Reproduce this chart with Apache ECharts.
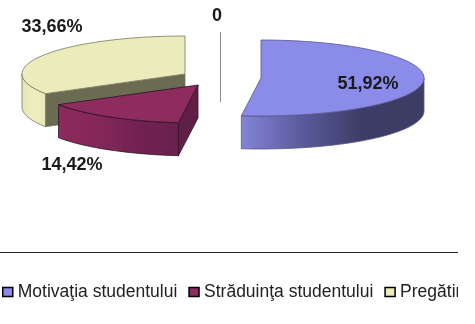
<!DOCTYPE html>
<html>
<head>
<meta charset="utf-8">
<script src="https://cdn.jsdelivr.net/npm/echarts@6/dist/echarts.min.js"></script>
<style>
html,body{margin:0;padding:0;background:#fff;}
#clip{width:458px;height:324px;overflow:hidden;filter:blur(0.35px);}
#chart{width:458px;height:324px;}
</style>
</head>
<body>
<div id="clip"><div id="chart"></div></div>
<script>
const categories = ['Motivaţia studentului', 'Străduinţa studentului', 'Pregătirea studentului'];
const values = [51.92, 14.42, 33.66];
const zeroValue = 0;

// projection of the tilted pie
const RX = 163, RY = 38, DEPTH = 33;
const centers = [[261, 78], [198, 85], [185, 74]];
const labelPos = [[368, 84], [72, 165], [52, 27]];
const palette = [
  { top: '#8b8bea', line: '#55558a', face: '#4a4a80', wall: ['#8484d8', '#5a5a9c', '#3c3c66', '#3c3c64'] },
  { top: '#8e2c5e', line: '#2e1024', face: '#5f1f46', wall: ['#8c2b5c', '#842859', '#702253', '#6a214c'] },
  { top: '#ecebbb', line: '#77775f', face: '#6b6b52', wall: ['#e4e3b4', '#eeedbe', '#eeedbe', '#e6e5b6'] }
];
// wall gradients run along the rim, from the slice's front-left end to its right end
const wallDir = [[0, 0, 1, 0], [0, 0, 1, 0], [0, 0, 1, 0]];

const total = values.reduce((a, b) => a + b, 0);
const fmt = v => v.toFixed(2).replace('.', ',') + '%';
const LABEL_FONT = 'bold 18px "Liberation Sans", Arial, sans-serif';

function pt(c, deg, dy) {
  const t = deg * Math.PI / 180;
  return [c[0] + RX * Math.sin(t), c[1] - RY * Math.cos(t) + (dy || 0)];
}
function arc(c, a, b, dy) {
  const pts = [], n = Math.max(2, Math.ceil(Math.abs(b - a) / 2));
  for (let i = 0; i <= n; i++) pts.push(pt(c, a + (b - a) * i / n, dy));
  return pts;
}

function sliceRender(idx) {
  return function (params, api) {
    const v = api.value(0);
    let before = 0;
    for (let i = 0; i < idx; i++) before += values[i];
    const a0 = before / total * 360, a1 = (before + v) / total * 360;
    const c = centers[idx], p = palette[idx], kids = [];
    const s = Math.sin(a0 * Math.PI / 180), stroke = { stroke: p.line, lineWidth: 0.8 };
    // visible cut face
    if (s < -1e-6) {
      const e = pt(c, a0);
      kids.push({ type: 'polygon', shape: { points: [c, e, [e[0], e[1] + DEPTH], [c[0], c[1] + DEPTH]] },
        style: Object.assign({ fill: p.face }, stroke) });
    }
    // outer wall: only the front half of the rim shows
    const w0 = Math.max(a0, 90), w1 = Math.min(a1, 270);
    if (w1 > w0) {
      const upper = arc(c, w0, w1, 0), lower = arc(c, w1, w0, DEPTH);
      const d = wallDir[idx];
      kids.push({ type: 'polygon', shape: { points: upper.concat(lower) },
        style: Object.assign({
          fill: new echarts.graphic.LinearGradient(d[0], d[1], d[2], d[3],
            p.wall.map((col, i) => ({ offset: i / (p.wall.length - 1), color: col })))
        }, stroke) });
    }
    // top
    kids.push({ type: 'polygon', shape: { points: [c].concat(arc(c, a0, a1, 0)) },
      style: Object.assign({ fill: p.top }, stroke) });
    // value label
    kids.push({ type: 'text', style: { x: labelPos[idx][0], y: labelPos[idx][1], text: fmt(v), align: 'center', verticalAlign: 'middle',
      font: LABEL_FONT, fill: '#1a1a1a' } });
    return { type: 'group', children: kids };
  };
}

const series = categories.map((name, i) => ({
  type: 'custom', name, coordinateSystem: 'none', silent: true,
  itemStyle: { color: palette[i].top },
  data: [[values[i]]],
  renderItem: sliceRender(i),
  animation: false
}));
// draw back to front
const drawOrder = [2, 1, 0];
drawOrder.forEach((i, k) => { series[i].z = 2 + k; });
// zero-valued point: label and leader line only
series.push({
  type: 'custom', name: 'zero', coordinateSystem: 'none', silent: true, z: 6, animation: false,
  data: [[zeroValue]],
  renderItem: (params, api) => ({ type: 'group', children: [
    { type: 'line', shape: { x1: 220.5, y1: 32, x2: 220.5, y2: 102 }, style: { stroke: '#8a8a8a', lineWidth: 1 } },
    { type: 'text', style: { x: 217, y: 16, text: String(api.value(0)), align: 'center', verticalAlign: 'middle',
      font: LABEL_FONT, fill: '#1a1a1a' } }
  ] })
});

const chart = echarts.init(document.getElementById('chart'), null, { renderer: 'canvas' });
chart.setOption({
  animation: false,
  backgroundColor: '#fff',
  legend: {
    data: categories, left: 2, top: 283, width: 800, itemWidth: 10, itemHeight: 9, itemGap: 11,
    padding: 0, selectedMode: false, icon: 'rect',
    itemStyle: { borderColor: '#000', borderWidth: 1.5 },
    textStyle: { color: '#222', fontFamily: '"Liberation Sans", Arial, sans-serif', fontSize: 17.5 }
  },
  graphic: [{ type: 'line', shape: { x1: 0, y1: 252.5, x2: 458, y2: 252.5 }, style: { stroke: '#222', lineWidth: 1 }, silent: true }],
  series
});
</script>
</body>
</html>
